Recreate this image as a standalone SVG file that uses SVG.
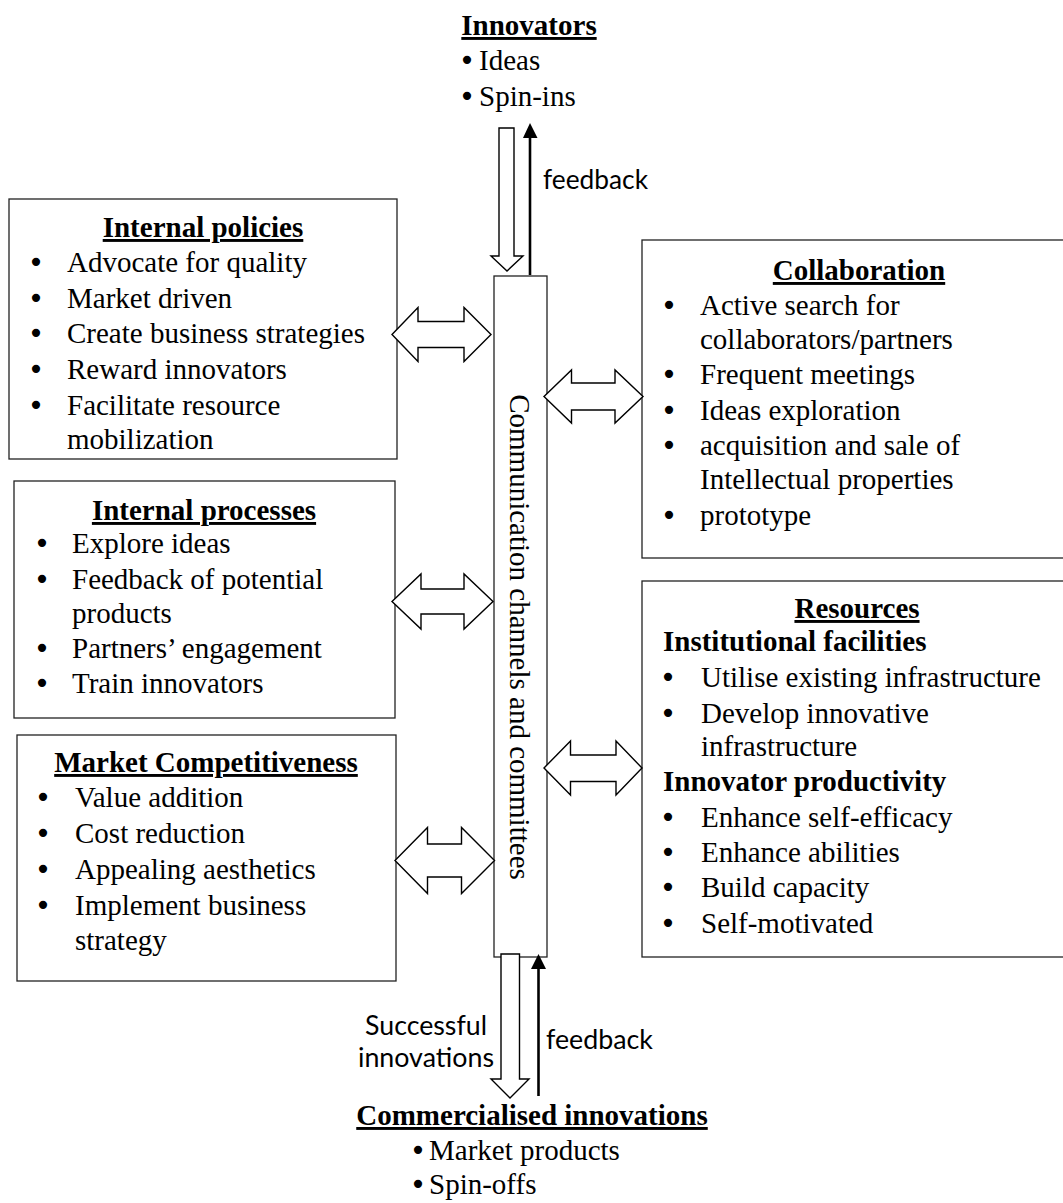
<svg xmlns="http://www.w3.org/2000/svg" width="1063" height="1203" viewBox="0 0 1063 1203">
<style>
  .box { fill: #fff; stroke: #222; stroke-width: 1.3; }
  .t { font-family: "Liberation Serif", "Times New Roman", serif; font-size: 29px; fill: #000; }
  .b { font-family: "DejaVu Sans", sans-serif; font-size: 28px; text-anchor: middle; }
  .n { font-family: "Liberation Serif", "Times New Roman", serif; text-anchor: start; }
  .h { font-family: "Liberation Serif", "Times New Roman", serif; font-size: 29px; font-weight: bold; fill: #000; }
  .u { text-decoration: underline; }
  .c { text-anchor: middle; }
  .s { font-family: Lato, "Open Sans", sans-serif; font-size: 27px; fill: #000; }
  .dbl { fill: #fff; stroke: #000; stroke-width: 1.4; stroke-linejoin: miter; }
  .fb { stroke: #000; stroke-width: 2.6; fill: none; }
  .fbh { fill: #000; stroke: none; }
</style>
<rect width="1063" height="1203" fill="#fff"/>

<g id="innovators">
  <text class="h u c" x="529" y="35">Innovators</text>
  <text class="t" y="70"><tspan class="b" x="467">•</tspan><tspan class="n" x="479">Ideas</tspan></text>
  <text class="t" y="106"><tspan class="b" x="467">•</tspan><tspan class="n" x="479">Spin-ins</tspan></text>
</g>

<g id="internal-policies">
  <rect class="box" x="9" y="199" width="388" height="260"/>
  <text class="h u c" x="203" y="237">Internal policies</text>
  <text class="t" y="272"><tspan class="b" x="36">•</tspan><tspan class="n" x="67">Advocate for quality</tspan></text>
  <text class="t" y="308"><tspan class="b" x="36">•</tspan><tspan class="n" x="67">Market driven</tspan></text>
  <text class="t" y="343"><tspan class="b" x="36">•</tspan><tspan class="n" x="67">Create business strategies</tspan></text>
  <text class="t" y="379"><tspan class="b" x="36">•</tspan><tspan class="n" x="67">Reward innovators</tspan></text>
  <text class="t" y="415"><tspan class="b" x="36">•</tspan><tspan class="n" x="67">Facilitate resource</tspan></text>
  <text class="t" x="67" y="449">mobilization</text>
</g>

<g id="internal-processes">
  <rect class="box" x="14" y="481" width="381" height="237"/>
  <text class="h u c" x="204" y="520">Internal processes</text>
  <text class="t" y="553"><tspan class="b" x="42">•</tspan><tspan class="n" x="72">Explore ideas</tspan></text>
  <text class="t" y="589"><tspan class="b" x="42">•</tspan><tspan class="n" x="72">Feedback of potential</tspan></text>
  <text class="t" x="72" y="623">products</text>
  <text class="t" y="658"><tspan class="b" x="42">•</tspan><tspan class="n" x="72">Partners’ engagement</tspan></text>
  <text class="t" y="693"><tspan class="b" x="42">•</tspan><tspan class="n" x="72">Train innovators</tspan></text>
</g>

<g id="market-competitiveness">
  <rect class="box" x="17" y="735" width="379" height="246"/>
  <text class="h u c" x="206" y="772">Market Competitiveness</text>
  <text class="t" y="807"><tspan class="b" x="43">•</tspan><tspan class="n" x="75">Value addition</tspan></text>
  <text class="t" y="843"><tspan class="b" x="43">•</tspan><tspan class="n" x="75">Cost reduction</tspan></text>
  <text class="t" y="879"><tspan class="b" x="43">•</tspan><tspan class="n" x="75">Appealing aesthetics</tspan></text>
  <text class="t" y="915"><tspan class="b" x="43">•</tspan><tspan class="n" x="75">Implement business</tspan></text>
  <text class="t" x="75" y="950">strategy</text>
</g>

<g id="collaboration">
  <rect class="box" x="642" y="240" width="430" height="318"/>
  <text class="h u c" x="859" y="280">Collaboration</text>
  <text class="t" y="315"><tspan class="b" x="669">•</tspan><tspan class="n" x="700">Active search for</tspan></text>
  <text class="t" x="700" y="349">collaborators/partners</text>
  <text class="t" y="384"><tspan class="b" x="669">•</tspan><tspan class="n" x="700">Frequent meetings</tspan></text>
  <text class="t" y="420"><tspan class="b" x="669">•</tspan><tspan class="n" x="700">Ideas exploration</tspan></text>
  <text class="t" y="455"><tspan class="b" x="669">•</tspan><tspan class="n" x="700">acquisition and sale of</tspan></text>
  <text class="t" x="700" y="489">Intellectual properties</text>
  <text class="t" y="525"><tspan class="b" x="669">•</tspan><tspan class="n" x="700">prototype</tspan></text>
</g>

<g id="resources">
  <rect class="box" x="642" y="581" width="430" height="376"/>
  <text class="h u c" x="857" y="618">Resources</text>
  <text class="h" x="663" y="651">Institutional facilities</text>
  <text class="t" y="687"><tspan class="b" x="668">•</tspan><tspan class="n" x="701">Utilise existing infrastructure</tspan></text>
  <text class="t" y="723"><tspan class="b" x="668">•</tspan><tspan class="n" x="701">Develop innovative</tspan></text>
  <text class="t" x="701" y="756">infrastructure</text>
  <text class="h" x="663" y="791">Innovator productivity</text>
  <text class="t" y="827"><tspan class="b" x="668">•</tspan><tspan class="n" x="701">Enhance self-efficacy</tspan></text>
  <text class="t" y="862"><tspan class="b" x="668">•</tspan><tspan class="n" x="701">Enhance abilities</tspan></text>
  <text class="t" y="897"><tspan class="b" x="668">•</tspan><tspan class="n" x="701">Build capacity</tspan></text>
  <text class="t" y="933"><tspan class="b" x="668">•</tspan><tspan class="n" x="701">Self-motivated</tspan></text>
</g>

<g id="communication-channels">
  <rect class="box" x="494" y="276" width="53" height="681"/>
  <text class="t c" transform="translate(510,637) rotate(90)" x="0" y="0">Communication channels and committees</text>
</g>

<g id="commercialised-innovations">
  <text class="h u c" x="532" y="1125">Commercialised innovations</text>
  <text class="t" y="1160"><tspan class="b" x="418">•</tspan><tspan class="n" x="429">Market products</tspan></text>
  <text class="t" y="1194"><tspan class="b" x="418">•</tspan><tspan class="n" x="429">Spin-offs</tspan></text>
</g>

<g id="connectors">
  <!-- top: innovators -> column (hollow) -->
  <polygon class="dbl" points="499,128 514,128 514,256 523,256 507,271 491,256 499,256"/>
  <!-- top feedback -->
  <line class="fb" x1="530" y1="275" x2="530" y2="136"/>
  <polygon class="fbh" points="523,138 537.5,138 530,123"/>
  <text class="s" x="543" y="189" textLength="105" lengthAdjust="spacingAndGlyphs">feedback</text>

  <!-- bottom: column -> commercialised (hollow) -->
  <polygon class="dbl" points="501,954 519.5,954 519.5,1079 529,1079 510,1098 491,1079 501,1079"/>
  <!-- bottom feedback -->
  <line class="fb" x1="538.5" y1="1096" x2="538.5" y2="966"/>
  <polygon class="fbh" points="531,969 546,969 538.5,954"/>
  <text class="s" x="546" y="1049" textLength="107" lengthAdjust="spacingAndGlyphs">feedback</text>
  <text class="s c" x="426" y="1035" textLength="122" lengthAdjust="spacingAndGlyphs">Successful</text>
  <text class="s c" x="426" y="1067" textLength="136" lengthAdjust="spacingAndGlyphs">innovations</text>

  <!-- double arrows left -->
  <polygon class="dbl" points="392,334.5 418,307.5 418,321.5 464,321.5 464,307.5 491,334.5 464,361.5 464,347.5 418,347.5 418,361.5"/>
  <polygon class="dbl" points="392,601.5 421,574 421,589 464,589 464,574 493,601.5 464,629 464,614 421,614 421,629"/>
  <polygon class="dbl" points="395,860.5 427.5,827.5 427.5,844 461.5,844 461.5,827.5 494.5,860.5 461.5,893.5 461.5,877 427.5,877 427.5,893.5"/>
  <!-- double arrows right -->
  <polygon class="dbl" points="544,396.5 571.5,370 571.5,383 615,383 615,370 643,396.5 615,423 615,410 571.5,410 571.5,423"/>
  <polygon class="dbl" points="544,768 570.5,741 570.5,755 616,755 616,741 642,768 616,795 616,781.5 570.5,781.5 570.5,795"/>
</g>
</svg>
